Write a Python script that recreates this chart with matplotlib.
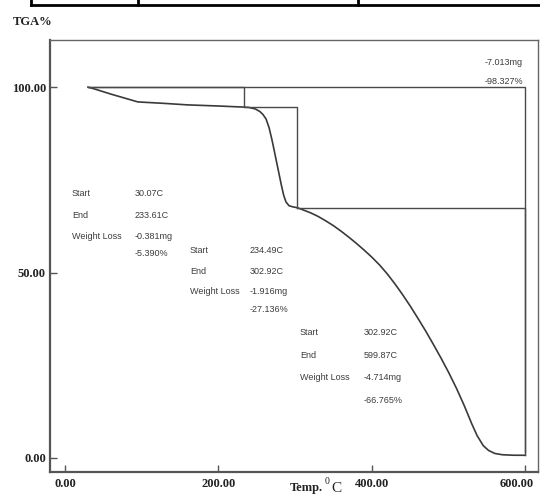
import matplotlib.pyplot as plt
from matplotlib.lines import Line2D
from matplotlib.transforms import ScaledTranslation

# TGA curve, temperature (C) vs weight (%)
temp = [30, 40, 60, 80, 95, 130, 160, 200, 233.6, 240, 248, 254, 258, 262, 266,
        270, 274, 278, 282, 285, 288, 292, 297, 302.9, 310, 320, 330, 340, 350,
        360, 370, 380, 390, 400, 410, 420, 430, 440, 450, 460, 470, 480, 490,
        500, 510, 520, 530, 537, 545, 552, 560, 570, 585, 599.9]
weight = [100, 99.4, 98.1, 96.9, 96.0, 95.6, 95.2, 94.9, 94.6, 94.5, 94.1, 93.4,
          92.6, 91.4, 89.0, 85.5, 81.5, 77.5, 73.5, 70.8, 69.0, 68.0, 67.7,
          67.47, 66.9, 66.1, 65.1, 63.9, 62.6, 61.1, 59.5, 57.8, 56.0, 54.1,
          52.0, 49.6, 46.9, 44.0, 40.9, 37.6, 34.2, 30.6, 26.9, 23.0, 18.8,
          14.2, 9.2, 6.0, 3.3, 2.0, 1.2, 0.85, 0.72, 0.71]

# weight loss steps: start temp, end temp, start weight, loss (%)
step_start = [30.07, 234.49, 302.92]
step_end = [233.61, 302.92, 599.87]
step_w0 = [100.0, 94.61, 67.47]
step_loss = [5.390, 27.136, 66.765]
step_mg = [0.381, 1.916, 4.714]
total_mg = 7.013
total_pct = 98.327

xticks = [0, 200, 400, 600]
yticks = [0, 50, 100]

fig = plt.figure(figsize=(5.4, 5.0), dpi=100)
ax = fig.add_axes([50 / 540, 1 - 472 / 500, 488 / 540, 432 / 500])

line_col = '#3a3a3a'
ax.plot(temp, weight, color=line_col, lw=1.2)

# step boxes
for s, e, w0, loss in zip(step_start, step_end, step_w0, step_loss):
    ax.plot([s, e, e], [w0, w0, w0 - loss], color='#4a4a4a', lw=1.0)
# overall loss
ax.plot([step_start[0], step_end[-1], step_end[-1]],
        [100, 100, 100 - total_pct], color='#4a4a4a', lw=1.0)

ax.set_xlim(-19.5, 616.3)
ax.set_ylim(-3.8, 112.7)
ax.set_xticks(xticks)
ax.set_yticks(yticks)
ax.set_xticklabels(['%.2f' % v for v in xticks])
ax.set_yticklabels(['%.2f' % v for v in yticks])
ax.tick_params(direction='in', length=5, width=1, color='#555555', pad=3,
               labelsize=9)
for lab in ax.get_xticklabels() + ax.get_yticklabels():
    lab.set_fontfamily('Liberation Serif')
    lab.set_fontweight('bold')
    lab.set_color('#222222')
ax.tick_params(axis='x', pad=4)
# last x label pulled in so it stays on the page
last = ax.get_xticklabels()[-1]
last.set_transform(last.get_transform() + ScaledTranslation(-9 / 100, 0, fig.dpi_scale_trans))

for side in ['left', 'bottom']:
    ax.spines[side].set_color('#555555')
    ax.spines[side].set_linewidth(1.6)
for side in ['top', 'right']:
    ax.spines[side].set_color('#666666')
    ax.spines[side].set_linewidth(1.0)

# step annotations
txt = dict(fontsize=6.5, family='Liberation Sans', color='#3c3c3c', va='center')
blocks = [(9.1, 91.1, [71.4, 65.5, 59.6, 55.0]),
          (162.8, 240.9, [55.8, 50.4, 45.0, 39.9]),
          (306.0, 389.3, [33.7, 27.5, 21.6, 15.6])]
for i, (xl, xv, rows) in enumerate(blocks):
    ax.text(xl, rows[0], 'Start', **txt)
    ax.text(xv, rows[0], '%.2fC' % step_start[i], **txt)
    ax.text(xl, rows[1], 'End', **txt)
    ax.text(xv, rows[1], '%.2fC' % step_end[i], **txt)
    ax.text(xl, rows[2], 'Weight Loss', **txt)
    ax.text(xv, rows[2], '-%.3fmg' % step_mg[i], **txt)
    ax.text(xv, rows[3], '-%.3f%%' % step_loss[i], **txt)
ax.text(546.9, 106.7, '-%.3fmg' % total_mg, **txt)
ax.text(546.9, 101.6, '-%.3f%%' % total_pct, **txt)

# axis titles
serif = dict(family='Liberation Serif', fontweight='bold', color='#222222')
fig.text(13 / 540, 1 - 22 / 500, 'TGA%', fontsize=9, va='center', **serif)
fig.text(290 / 540, 1 - 488 / 500, 'Temp.', fontsize=9, va='center', **serif)
fig.text(325 / 540, 1 - 482 / 500, '0', fontsize=7, va='center',
         family='Liberation Serif', color='#222222')
fig.text(331 / 540, 1 - 489 / 500, 'C', fontsize=11, va='center',
         family='Liberation Serif', color='#222222')

# table rule above the chart
for xs, ys in [([31, 540], [5, 5]), ([31, 31], [0, 5]),
               ([138, 138], [0, 5]), ([358, 358], [0, 5])]:
    fig.add_artist(Line2D([x / 540 for x in xs], [1 - y / 500 for y in ys],
                          color='black', lw=2))

fig.savefig('out.png', dpi=100)
